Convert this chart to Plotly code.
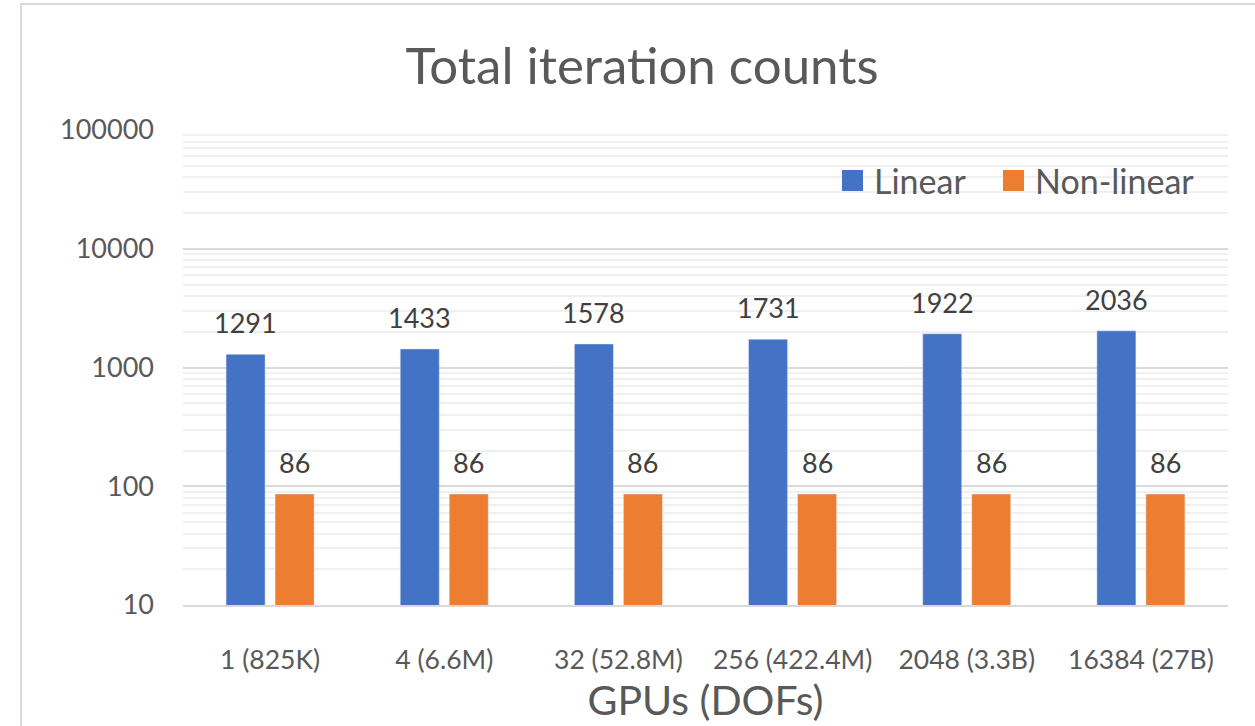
import math
import plotly.graph_objects as go

# Iteration totals per GPU count (problem size in DOFs)
categories = ["1 (825K)", "4 (6.6M)", "32 (52.8M)", "256 (422.4M)", "2048 (3.3B)", "16384 (27B)"]
linear_iters = [1291, 1433, 1578, 1731, 1922, 2036]
nonlinear_iters = [86, 86, 86, 86, 86, 86]
y_tick_vals = [10, 100, 1000, 10000, 100000]
y_tick_text = ["10", "100", "1000", "10000", "100000"]

BLUE = "#4472C4"
ORANGE = "#ED7D31"
TEXT = "#595959"
LABEL = "#404040"
FONT = "Lato"

W, H = 1255, 726
L, R, T, B = 183, 27, 130, 121
PW, PH = W - L - R, H - T - B
BARGAP, BARGROUPGAP = 0.437, 0.204


def px_x(px):
    return (px - L) / PW


def px_y(py):
    return (H - B - py) / PH


fig = go.Figure()
fig.add_trace(go.Bar(name="Linear", x=categories, y=linear_iters, marker_color=BLUE))
fig.add_trace(go.Bar(name="Non-linear", x=categories, y=nonlinear_iters, marker_color=ORANGE))

fig.update_layout(
    width=W, height=H,
    margin=dict(l=L, r=R, t=T, b=B, pad=0),
    paper_bgcolor="white", plot_bgcolor="white",
    font=dict(family=FONT, color=TEXT),
    showlegend=False,
    barmode="group", bargap=BARGAP, bargroupgap=BARGROUPGAP,
    title=dict(text="Total iteration counts", x=642 / W, xanchor="center",
               y=1 - 66 / H, yanchor="middle",
               font=dict(size=51, color=TEXT, family=FONT)),
    xaxis=dict(
        showgrid=False, showline=True, linecolor="#D9D9D9", linewidth=2,
        ticks="", zeroline=False,
        tickfont=dict(size=26.5, color=TEXT, family=FONT),
        ticklabelstandoff=30,
        title=dict(text="GPUs (DOFs)", font=dict(size=41, color=TEXT, family=FONT), standoff=6),
    ),
    yaxis=dict(
        type="log", range=[1, 5],
        tickvals=y_tick_vals, ticktext=y_tick_text,
        tickfont=dict(size=27, color=TEXT, family=FONT),
        ticklabelstandoff=28,
        showgrid=True, gridcolor="#D9D9D9", gridwidth=2,
        zeroline=False, showline=False, ticks="",
        minor=dict(dtick="D1", showgrid=True, gridcolor="#F0F0F0", gridwidth=2),
    ),
)

# Value labels above each bar, offset to the bar's slot within its group
# (annotation y on a log axis is given in log10 units)
slot_px = PW / len(categories) * (1 - BARGAP) / 2
for series, shift in ((linear_iters, -slot_px / 2), (nonlinear_iters, slot_px / 2)):
    for cat, val in zip(categories, series):
        fig.add_annotation(x=cat, y=math.log10(val), yref="y", xref="x", text=str(val),
                           showarrow=False, xanchor="center", yanchor="bottom",
                           xshift=shift, yshift=13,
                           font=dict(size=27, color=LABEL, family=FONT))

# Outer chart frame (left and top edges)
fig.add_shape(type="rect", xref="paper", yref="paper",
              x0=px_x(21), x1=px_x(1400), y0=px_y(4), y1=px_y(900),
              line=dict(color="#D9D9D9", width=2), fillcolor="rgba(0,0,0,0)", layer="below")

# Legend in the upper right of the plot area
legend_items = [("Linear", BLUE, 842), ("Non-linear", ORANGE, 1003)]
for name, color, left in legend_items:
    fig.add_shape(type="rect", xref="paper", yref="paper",
                  x0=px_x(left), x1=px_x(left + 21), y0=px_y(191), y1=px_y(170),
                  line=dict(width=0), fillcolor=color)
    fig.add_annotation(xref="paper", yref="paper", x=px_x(left + 30), y=px_y(180),
                       text=name, showarrow=False, xanchor="left", yanchor="middle",
                       font=dict(size=34, color=TEXT, family=FONT))

fig.write_html("out.html")
